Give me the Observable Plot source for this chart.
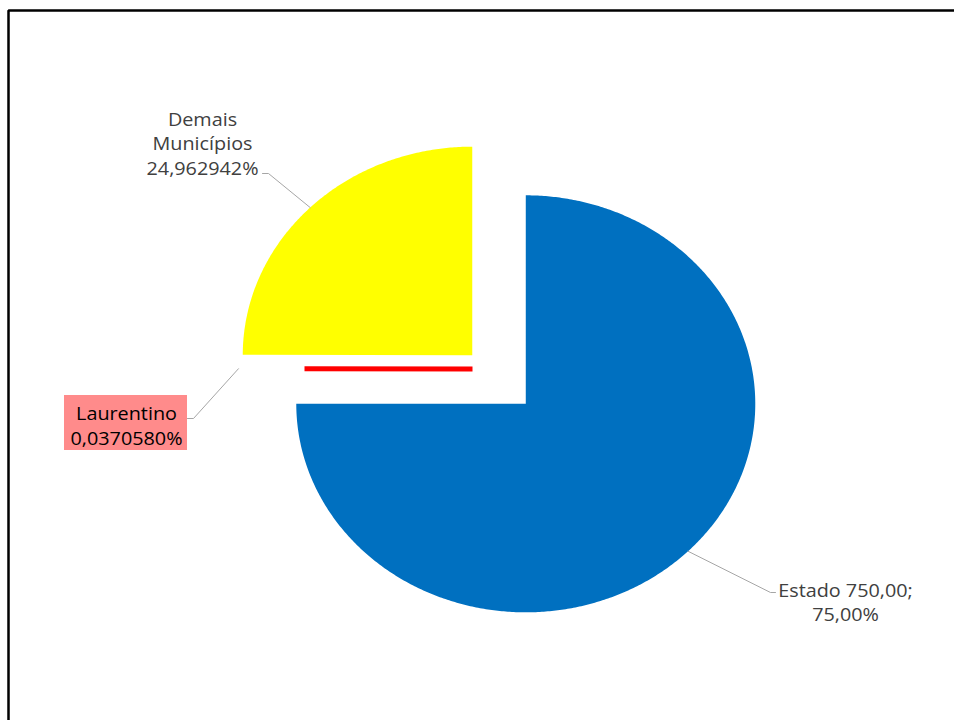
<!DOCTYPE html>
<html><head><meta charset="utf-8">
<script src="https://cdn.jsdelivr.net/npm/d3@7"></script>
<script src="https://cdn.jsdelivr.net/npm/@observablehq/plot@0.6"></script>
<style>
html,body{margin:0;padding:0;background:#fff;overflow:hidden;}
#chart{width:954px;height:720px;}
</style></head><body><div id="chart"></div>
<script>
// ---- data ----
const categories = ["Estado", "Laurentino", "Demais Municípios"];
const values = [750.00, 0.37058, 249.62942];
const labelTexts = ["Estado 750,00;\n75,00%", "Laurentino\n0,0370580%", "Demais\nMunicípios\n24,962942%"];
const colors = ["#0070C0", "#FF0000", "#FFFF00"];

// ---- layout (pixels) ----
const W = 954, H = 720;
const C = {x: 498.5, y: 379};        // pie centre before explosion
const RX = 229.5, RY = 208.5;        // elliptical radii
const explodeR = 0.165;              // explosion (radius units)
// tiny slice is drawn by Excel as a short bar; own placement
const tinyOffset = {x: -26.5, y: -10.5}, tinyRadius = 0.732, tinyLeadR = 1.02;
const labelLayout = [
  {x: 845, y: 600.5, elbow: [770, 592], end: [775, 592], color: "#404040"},
  {x: 126, y: 424,   elbow: [193, 418], end: [187, 418], color: "#000000",
   box: {x1: 64, x2: 187, y1: 395, y2: 450, fill: "#FF8B8B"}},
  {x: 202, y: 142,   elbow: [268, 173], end: [262, 173], color: "#404040"}
];

// ---- geometry from data ----
const arcs = d3.pie().sort(null).value(d => d)(values);
const pt = (cx, cy, a, r) => [cx + r * RX * Math.sin(a), cy - r * RY * Math.cos(a)];

const slices = [];
const tinyBars = [];
const leaders = [];
arcs.forEach((arc, i) => {
  const mid = (arc.startAngle + arc.endAngle) / 2;
  const tiny = (arc.endAngle - arc.startAngle) < 0.01;
  let cx, cy, lr;
  if (tiny) {
    cx = C.x + tinyOffset.x; cy = C.y + tinyOffset.y; lr = tinyLeadR;
    [[cx, cy], pt(cx, cy, mid, tinyRadius)].forEach(([x, y]) => tinyBars.push({cat: categories[i], x, y}));
  } else {
    [cx, cy] = pt(C.x, C.y, mid, explodeR); lr = 1;
    const pts = [[cx, cy]];
    const n = Math.max(2, Math.ceil((arc.endAngle - arc.startAngle) / (Math.PI / 360)));
    for (let k = 0; k <= n; k++) {
      const a = arc.startAngle + (arc.endAngle - arc.startAngle) * k / n;
      pts.push(pt(cx, cy, a, 1));
    }
    pts.forEach(([x, y]) => slices.push({cat: categories[i], x, y}));
  }
  const L = labelLayout[i];
  const s = pt(cx, cy, mid, lr);
  [s, L.elbow, L.end].forEach(([x, y]) => leaders.push({cat: categories[i], x, y}));
});

const labels = categories.map((c, i) => ({cat: c, text: labelTexts[i], x: labelLayout[i].x, y: labelLayout[i].y, color: labelLayout[i].color}));
const boxes = labelLayout.filter(d => d.box).map(d => d.box);
const frameEdge = [[8, H + 40], [8, 10], [W + 40, 10]].map(([x, y]) => ({x, y}));

const plot = Plot.plot({
  width: W, height: H,
  margin: 0,
  style: {fontFamily: "'Open Sans', sans-serif", background: "white"},
  x: {domain: [0, W], range: [0, W], axis: null},
  y: {domain: [0, H], range: [0, H], axis: null},
  color: {domain: categories, range: colors},
  marks: [
    // outer frame (only left and top edges are inside the picture)
    Plot.line(frameEdge, {x: "x", y: "y", stroke: "black", strokeWidth: 2.5, strokeLinejoin: "miter"}),
    // big slices
    Plot.line(slices, {x: "x", y: "y", z: "cat", fill: d => d.cat, stroke: "none"}),
    // tiny slice
    Plot.line(tinyBars, {x: "x", y: "y", z: "cat", stroke: d => d.cat, strokeWidth: 5, strokeLinecap: "butt"}),
    // leader lines
    Plot.line(leaders, {x: "x", y: "y", z: "cat", stroke: "#A6A6A6", strokeWidth: 1}),
    // label box
    Plot.rect(boxes, {x1: "x1", x2: "x2", y1: "y1", y2: "y2", fill: "fill"}),
    // labels
    Plot.text(labels, {x: "x", y: "y", text: "text", fill: "color", fontSize: 18, lineHeight: 1.37, textAnchor: "middle"})
  ]
});

// horizontally stretch label text like the reference
d3.select(plot).selectAll("g[aria-label=text] text").each(function() {
  const t = this.getAttribute("transform");
  if (t) this.setAttribute("transform", t + " scale(1.1,1)");
});
document.getElementById("chart").appendChild(plot);
</script></body></html>
